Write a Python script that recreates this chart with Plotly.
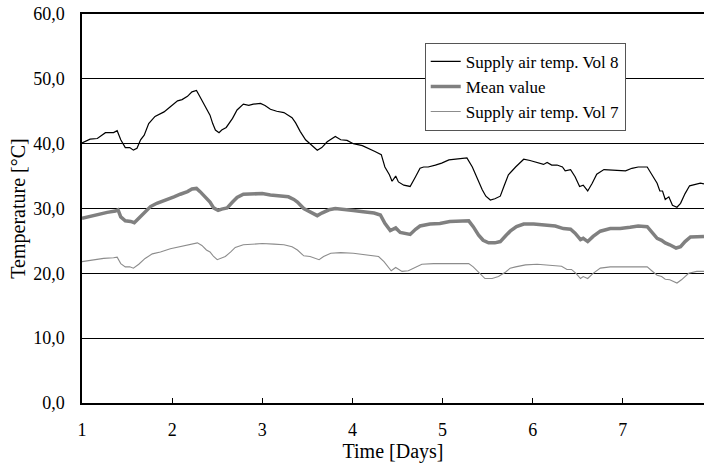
import plotly.graph_objects as go

# Supply air temperature over one week
days_vol8 = [1.00, 1.09, 1.17, 1.26, 1.35, 1.39, 1.43, 1.48, 1.53, 1.57, 1.61, 1.65, 1.69, 1.74, 1.81,
             1.91, 1.98, 2.06, 2.11, 2.17, 2.22, 2.27, 2.31, 2.37, 2.42, 2.45, 2.48, 2.52, 2.55, 2.60,
             2.67, 2.72, 2.79, 2.85, 2.90, 2.98, 3.03, 3.09, 3.16, 3.24, 3.29, 3.33, 3.37, 3.42, 3.48,
             3.53, 3.61, 3.66, 3.72, 3.81, 3.87, 3.94, 4.01, 4.11, 4.18, 4.25, 4.32, 4.36, 4.41, 4.44,
             4.48, 4.51, 4.57, 4.64, 4.70, 4.75, 4.79, 4.84, 4.92, 4.99, 5.07, 5.14, 5.20, 5.27, 5.33,
             5.38, 5.44, 5.48, 5.53, 5.58, 5.64, 5.68, 5.73, 5.81, 5.90, 5.97, 6.05, 6.12, 6.16, 6.21,
             6.27, 6.33, 6.36, 6.42, 6.47, 6.52, 6.56, 6.61, 6.66, 6.71, 6.79, 6.88, 6.95, 7.03, 7.10,
             7.17, 7.27, 7.32, 7.38, 7.41, 7.44, 7.47, 7.51, 7.55, 7.60, 7.64, 7.69, 7.74, 7.80, 7.86,
             7.90]
temp_vol8 = [40.1, 40.7, 40.8, 41.7, 41.7, 42.0, 40.6, 39.4, 39.4, 39.0, 39.3, 40.6, 41.3, 43.1, 44.2,
             44.9, 45.7, 46.6, 46.8, 47.3, 48.0, 48.2, 47.2, 45.7, 44.4, 43.1, 42.1, 41.7, 42.1, 42.5,
             43.9, 45.2, 46.1, 45.9, 46.1, 46.2, 45.9, 45.3, 45.0, 44.8, 44.4, 44.0, 43.2, 41.9, 40.6,
             40.0, 39.0, 39.4, 40.3, 41.1, 40.6, 40.5, 40.0, 39.7, 39.3, 38.8, 38.3, 36.4, 35.2, 34.2,
             35.0, 34.1, 33.6, 33.4, 34.9, 36.2, 36.4, 36.4, 36.7, 37.0, 37.5, 37.6, 37.7, 37.8, 36.4,
             34.7, 32.9, 31.9, 31.3, 31.5, 31.9, 33.4, 35.2, 36.4, 37.6, 37.4, 37.1, 36.8, 37.1, 36.7,
             36.7, 36.4, 35.8, 36.0, 34.9, 33.4, 33.6, 32.7, 33.9, 35.3, 36.0, 35.9, 35.8, 35.8, 36.2,
             36.4, 36.4, 35.2, 33.9, 32.7, 32.7, 31.4, 31.8, 30.5, 30.2, 30.8, 32.3, 33.5, 33.7, 33.9,
             33.8]

days_mean = [1.00, 1.09, 1.19, 1.28, 1.37, 1.40, 1.43, 1.48, 1.54, 1.58, 1.63, 1.69, 1.76, 1.83, 1.94,
             2.02, 2.09, 2.17, 2.22, 2.27, 2.31, 2.37, 2.42, 2.46, 2.51, 2.55, 2.61, 2.67, 2.72, 2.79,
             2.89, 3.00, 3.09, 3.20, 3.29, 3.35, 3.39, 3.46, 3.53, 3.61, 3.66, 3.74, 3.81, 3.90, 4.01,
             4.12, 4.24, 4.31, 4.36, 4.42, 4.48, 4.53, 4.59, 4.64, 4.70, 4.75, 4.86, 4.97, 5.08, 5.20,
             5.29, 5.34, 5.40, 5.45, 5.51, 5.58, 5.64, 5.70, 5.75, 5.82, 5.90, 6.01, 6.12, 6.25, 6.34,
             6.42, 6.47, 6.53, 6.56, 6.61, 6.67, 6.75, 6.86, 6.97, 7.08, 7.17, 7.27, 7.32, 7.38, 7.43,
             7.47, 7.52, 7.59, 7.64, 7.69, 7.75, 7.82, 7.90]
temp_mean = [28.5, 28.8, 29.2, 29.4, 29.6, 29.8, 28.7, 28.1, 28.0, 27.8, 28.5, 29.4, 30.3, 30.8, 31.3,
             31.8, 32.2, 32.6, 33.0, 33.1, 32.6, 31.8, 31.0, 30.1, 29.7, 29.9, 30.1, 31.0, 31.7, 32.2,
             32.2, 32.3, 32.1, 32.0, 31.8, 31.4, 31.0, 30.0, 29.5, 28.9, 29.3, 29.8, 30.0, 29.9, 29.7,
             29.5, 29.3, 29.0, 27.7, 26.6, 27.0, 26.3, 26.1, 26.0, 26.8, 27.3, 27.6, 27.7, 28.0, 28.1,
             28.1, 27.2, 25.9, 25.1, 24.7, 24.7, 24.9, 25.8, 26.5, 27.2, 27.6, 27.6, 27.5, 27.3, 26.9,
             26.8, 26.2, 25.2, 25.4, 24.9, 25.7, 26.5, 26.9, 26.9, 27.1, 27.3, 27.2, 26.4, 25.4, 25.1,
             24.7, 24.4, 23.9, 24.1, 24.9, 25.6, 25.7, 25.7]

days_vol7 = [1.00, 1.13, 1.24, 1.35, 1.39, 1.43, 1.48, 1.53, 1.57, 1.63, 1.70, 1.78, 1.87, 1.98, 2.09,
             2.20, 2.28, 2.33, 2.38, 2.42, 2.46, 2.50, 2.54, 2.59, 2.65, 2.70, 2.79, 2.90, 3.00, 3.13,
             3.24, 3.33, 3.39, 3.46, 3.53, 3.63, 3.68, 3.76, 3.87, 4.01, 4.16, 4.29, 4.35, 4.43, 4.48,
             4.55, 4.62, 4.70, 4.77, 4.90, 5.05, 5.20, 5.29, 5.34, 5.40, 5.47, 5.55, 5.62, 5.70, 5.75,
             5.81, 5.92, 6.05, 6.19, 6.32, 6.38, 6.43, 6.48, 6.53, 6.56, 6.61, 6.67, 6.75, 6.86, 7.01,
             7.16, 7.27, 7.32, 7.38, 7.43, 7.47, 7.52, 7.60, 7.65, 7.73, 7.82, 7.90]
temp_vol7 = [21.8, 22.1, 22.3, 22.4, 22.5, 21.5, 21.0, 21.0, 20.8, 21.4, 22.3, 23.0, 23.3, 23.8, 24.1,
             24.5, 24.7, 24.3, 23.6, 23.3, 22.6, 22.1, 22.3, 22.6, 23.3, 24.0, 24.4, 24.5, 24.6, 24.5,
             24.4, 24.1, 23.6, 22.7, 22.6, 22.1, 22.6, 23.1, 23.2, 23.1, 22.8, 22.6, 21.8, 20.4, 20.9,
             20.3, 20.4, 20.9, 21.4, 21.5, 21.5, 21.6, 21.5, 21.0, 20.1, 19.2, 19.2, 19.5, 20.2, 20.8,
             21.0, 21.3, 21.4, 21.3, 21.1, 20.6, 20.6, 20.0, 19.2, 19.5, 19.2, 20.0, 20.8, 21.0, 21.0,
             21.1, 21.0, 20.4, 19.7, 19.5, 19.1, 19.0, 18.5, 19.0, 20.0, 20.3, 20.3]

day_ticks = [1, 2, 3, 4, 5, 6, 7]
temp_ticks = [0, 10, 20, 30, 40, 50, 60]

FONT = "Liberation Serif, Times New Roman, serif"

fig = go.Figure()
fig.add_trace(go.Scatter(x=days_vol8, y=temp_vol8, mode="lines", name="Supply air temp. Vol 8",
                         line=dict(color="#000000", width=1.2)))
fig.add_trace(go.Scatter(x=days_mean, y=temp_mean, mode="lines", name="Mean value",
                         line=dict(color="#808080", width=3.5)))
fig.add_trace(go.Scatter(x=days_vol7, y=temp_vol7, mode="lines", name="Supply air temp. Vol 7",
                         line=dict(color="#8c8c8c", width=1.1)))

fig.update_layout(
    width=704, height=463,
    margin=dict(l=82, r=0, t=14, b=60),
    paper_bgcolor="white", plot_bgcolor="white",
    font=dict(family=FONT, size=18, color="black"),
    separators=", ",
    showlegend=True,
    legend=dict(x=0.551, y=0.926, xanchor="left", yanchor="top",
                bgcolor="white", bordercolor="#555555", borderwidth=1,
                font=dict(family=FONT, size=17, color="black"),
                tracegroupgap=0, itemwidth=30),
    hovermode=False,
)
# mirror=True draws the line along the top (the 60,0 gridline gets dropped at the edge)
fig.update_xaxes(
    range=[1, 7.9], tickvals=day_ticks, ticks="inside", ticklen=5, tickcolor="black",
    showline=True, linecolor="black", linewidth=1.5, mirror=True, showgrid=False, zeroline=False,
    ticklabelstandoff=10,
    title=dict(text="Time [Days]", font=dict(size=20), standoff=6),
    tickfont=dict(size=18),
)
fig.update_yaxes(
    range=[0, 60], tickvals=temp_ticks, tickformat=".1f", ticks="",
    showline=True, linecolor="black", linewidth=1.5,
    showgrid=True, gridcolor="black", gridwidth=1, zeroline=False,
    ticklabelstandoff=12,
    title=dict(text="Temperature [°C]", font=dict(size=20), standoff=2),
    tickfont=dict(size=18),
)

# drop the default 8px body margin so the figure fills the window exactly
fig.write_html("out.html", config={"displayModeBar": False},
               post_script="document.body.style.margin = '0'; document.body.style.overflow = 'hidden';")
